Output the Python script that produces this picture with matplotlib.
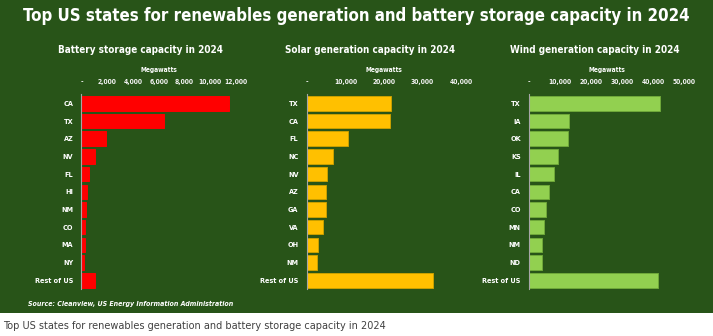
import matplotlib
matplotlib.use("Agg")
import matplotlib.pyplot as plt
from matplotlib.ticker import FuncFormatter, FixedLocator

# ------------------------------------------------------------
# Data (MW)
# ------------------------------------------------------------
battery_states = ["CA", "TX", "AZ", "NV", "FL", "HI", "NM", "CO", "MA", "NY", "Rest of US"]
battery_mw = [11480, 6370, 1910, 1070, 560, 400, 330, 270, 250, 170, 1050]

solar_states = ["TX", "CA", "FL", "NC", "NV", "AZ", "GA", "VA", "OH", "NM", "Rest of US"]
solar_mw = [21800, 21550, 10650, 6750, 5270, 5010, 4940, 4160, 2940, 2600, 32700]

wind_states = ["TX", "IA", "OK", "KS", "IL", "CA", "CO", "MN", "NM", "ND", "Rest of US"]
wind_mw = [42200, 13000, 12600, 9200, 7900, 6350, 5400, 4850, 4300, 4300, 41800]

battery_ticks = [0, 2000, 4000, 6000, 8000, 10000, 12000]
solar_ticks = [0, 10000, 20000, 30000, 40000]
wind_ticks = [0, 10000, 20000, 30000, 40000, 50000]

title = "Top US states for renewables generation and battery storage capacity in 2024"
source = "Source: Cleanview, US Energy Information Administration"

BG = "#285418"
FONT = dict(family="DejaVu Sans", stretch="condensed")
W, H = 713, 336

fig = plt.figure(figsize=(7.13, 3.36), dpi=100, facecolor="white")

# green panel behind everything
fig.patches.append(plt.Rectangle((0, 0.0685), 1, 0.9315, transform=fig.transFigure,
                                 facecolor=BG, edgecolor="none", zorder=-10))

# subtitle, categories, values, ticks, colour, edge, axes left, subtitle centre (px)
panels = [
    ("Battery storage capacity in 2024", battery_states, battery_mw, battery_ticks,
     "#FF0000", "#FF0000", 0.1143, 141),
    ("Solar generation capacity in 2024", solar_states, solar_mw, solar_ticks,
     "#FFC000", "#C9A000", 0.4302, 370),
    ("Wind generation capacity in 2024", wind_states, wind_mw, wind_ticks,
     "#92D050", "#6FA83A", 0.7422, 595),
]


def mw_fmt(v, pos):
    return "-" if v == 0 else f"{v:,.0f}"


for sub, cats, vals, ticks, color, edge, left, sub_x in panels:
    ax = fig.add_axes([left, 0.1393, 0.2167, 0.5796])
    ax.set_facecolor("none")
    ypos = list(range(len(cats)))
    ax.barh(ypos, vals, height=0.82, color=color, edgecolor=edge, linewidth=0.7)
    ax.set_ylim(len(cats) - 0.5, -0.5)
    ax.set_xlim(0, ticks[-1])
    ax.set_yticks(ypos)
    ax.set_yticklabels(cats)
    ax.xaxis.set_major_locator(FixedLocator(ticks))
    ax.xaxis.set_major_formatter(FuncFormatter(mw_fmt))
    ax.xaxis.tick_top()
    ax.tick_params(axis="x", length=0, pad=7, labelsize=4.9, colors="#F2F2F2")
    ax.tick_params(axis="y", length=0, pad=6, labelsize=5.2, colors="white")
    for lab in ax.get_xticklabels() + ax.get_yticklabels():
        lab.set_fontweight("bold")
        lab.set_fontstretch("condensed")
    for s in ["top", "right", "bottom"]:
        ax.spines[s].set_visible(False)
    ax.spines["left"].set_color("#A6A6A6")
    ax.spines["left"].set_linewidth(0.8)
    ax.set_xlabel("Megawatts", fontsize=4.8, fontweight="bold", color="white", labelpad=4.5, **FONT)
    ax.xaxis.set_label_position("top")
    # panel subtitle
    fig.text(sub_x / W, 1 - 50 / H, sub, ha="center", va="center",
             fontsize=7.1, fontweight="bold", color="white", **FONT)

fig.text(356 / W, 1 - 16 / H, title, ha="center", va="center", fontsize=12.1,
         fontweight="bold", color="white", **FONT)
fig.text(28 / W, 1 - 304 / H, source, ha="left", va="center", fontsize=5.0,
         fontweight="bold", style="italic", color="white", **FONT)
fig.text(3 / W, 1 - 326 / H, title, ha="left", va="center", fontsize=7.0,
         color="#404040", family="DejaVu Sans")

fig.savefig("out.png", dpi=100, facecolor="white")
